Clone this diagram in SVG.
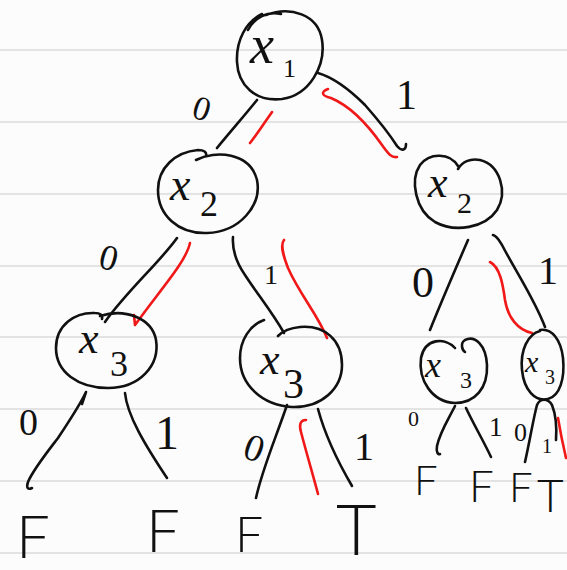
<svg xmlns="http://www.w3.org/2000/svg" width="567" height="570" viewBox="0 0 567 570">
  <style>
    .rule { stroke: #e3e3e3; stroke-width: 2; }
    .ink { fill: none; stroke: #111; stroke-width: 2.6; stroke-linecap: round; stroke-linejoin: round; }
    .red { fill: none; stroke: #f01818; stroke-width: 2.6; stroke-linecap: round; stroke-linejoin: round; }
    .var { font-family: "Liberation Serif", serif; font-style: italic; fill: #111; }
    .sub { font-family: "Liberation Serif", serif; fill: #111; }
    .bit { font-family: "Liberation Serif", serif; fill: #111; }
    .leaf { font-family: "Lato", "Liberation Sans", sans-serif; font-weight: 300; fill: #111; }
  </style>

  <!-- notebook paper -->
  <rect width="567" height="570" fill="#fcfcfc"/>
  <g id="paper-rules">
    <line class="rule" x1="0" y1="50" x2="567" y2="50"/>
    <line class="rule" x1="0" y1="122" x2="567" y2="122"/>
    <line class="rule" x1="0" y1="194" x2="567" y2="194"/>
    <line class="rule" x1="0" y1="266" x2="567" y2="266"/>
    <line class="rule" x1="0" y1="337" x2="567" y2="337"/>
    <line class="rule" x1="0" y1="409" x2="567" y2="409"/>
    <line class="rule" x1="0" y1="481" x2="567" y2="481"/>
    <line class="rule" x1="0" y1="553" x2="567" y2="553"/>
  </g>

  <!-- branches, bit labels and the highlighted path -->
  <g id="connectors">
    <!-- x1 -> x2 (0) -->
    <path class="ink" d="M257,100 C245,115 230,132 217,148"/>
    <path class="red" d="M272,112 C265,122 258,133 250,143"/>
    <text class="bit" x="193" y="121" font-size="34" transform="rotate(18 205 110)">0</text>
    <!-- x1 -> x2 (1) -->
    <path class="ink" d="M318,73 C335,78 350,90 365,105 C380,122 390,135 397,146 C402,152 406,150 406,144"/>
    <path class="red" d="M328,89 C320,92 322,96 331,98 C350,106 368,125 382,145 C388,153 391,158 397,157"/>
    <text class="bit" x="396" y="109" font-size="42">1</text>

    <!-- left x2 -> x3 (0) -->
    <path class="ink" d="M177,238 C160,262 126,292 105,322"/>
    <path class="red" d="M190,243 C186,262 160,290 135,325 M135,325 L134,315"/>
    <text class="bit" x="100" y="272" font-size="36" transform="rotate(15 117 258)">0</text>
    <!-- left x2 -> x3 (1) -->
    <path class="ink" d="M233,237 C232,250 236,262 245,275 C258,295 272,312 284,333"/>
    <path class="red" d="M284,240 C280,245 283,255 288,268 C300,295 318,315 327,338"/>
    <text class="bit" x="264" y="284" font-size="28">1</text>

    <!-- right x2 -> x3 (0) -->
    <path class="ink" d="M468,240 C455,270 442,300 430,330"/>
    <text class="bit" x="412" y="297" font-size="44">0</text>
    <!-- right x2 -> x3 (1) -->
    <path class="ink" d="M493,235 C497,236 499,240 502,245 C515,270 535,300 545,327"/>
    <path class="red" d="M490,262 C500,267 503,285 505,300 C508,318 518,330 532,333"/>
    <text class="bit" x="538" y="284" font-size="40">1</text>

    <!-- x3 (a) -->
    <path class="ink" d="M86,392 C80,405 70,420 58,438 C45,455 33,470 28,482 C26,488 28,490 32,488 M86,392 L82,404"/>
    <text class="bit" x="19" y="435" font-size="38">0</text>
    <path class="ink" d="M125,393 C127,415 145,445 167,478"/>
    <text class="bit" x="155" y="449" font-size="48">1</text>

    <!-- x3 (b) -->
    <path class="ink" d="M287,405 C275,440 262,470 256,498"/>
    <text class="bit" x="245" y="462" font-size="38" transform="rotate(20 258 448)">0</text>
    <path class="red" d="M306,420 C300,420 299,425 301,432 C307,455 313,475 318,494"/>
    <path class="ink" d="M318,409 C325,435 338,462 352,486"/>
    <text class="bit" x="354" y="460" font-size="40">1</text>

    <!-- x3 (c) -->
    <path class="ink" d="M455,406 C448,420 440,432 437,446 C436,452 438,455 440,454"/>
    <text class="bit" x="408" y="426" font-size="22">0</text>
    <path class="ink" d="M466,408 C474,425 483,440 491,457"/>
    <text class="bit" x="489" y="436" font-size="27">1</text>

    <!-- x3 (d) -->
    <path class="ink" d="M525,462 C530,440 533,420 537,405 C540,398 548,398 552,405 C556,415 557,425 556,440"/>
    <text class="bit" x="514" y="441" font-size="26">0</text>
    <text class="bit" x="542" y="453" font-size="20">1</text>
    <path class="red" d="M558,418 C560,430 563,445 566,458"/>
  </g>

  <!-- decision nodes -->
  <g id="node-x1">
    <path class="ink" d="M266,15 C290,6 318,14 322,40 C326,65 310,95 282,99 C255,102 238,85 237,62 C236,40 246,22 262,14 M248,30 C255,17 267,11 281,14"/>
    <text class="var" x="250" y="63" font-size="54">x</text>
    <text class="sub" x="283" y="77" font-size="26">1</text>
  </g>
  <g id="node-x2-left">
    <path class="ink" d="M196,160 C215,150 250,152 257,180 C262,205 240,232 207,233 C178,234 158,215 158,190 C158,168 175,152 198,150 C204,150 207,152 206,156"/>
    <text class="var" x="170" y="200" font-size="46">x</text>
    <text class="sub" x="200" y="216" font-size="36">2</text>
  </g>
  <g id="node-x2-right">
    <path class="ink" d="M458,166 C450,153 430,152 420,165 C410,180 415,210 435,222 C455,233 485,228 497,210 C508,192 500,165 480,160 C470,158 462,162 458,169"/>
    <text class="var" x="428" y="197" font-size="44">x</text>
    <text class="sub" x="457" y="213" font-size="30">2</text>
  </g>
  <g id="node-x3-a">
    <path class="ink" d="M100,316 C125,308 152,318 156,340 C160,365 140,388 108,388 C78,388 56,372 56,348 C56,325 75,312 95,313 C100,313 103,315 102,319"/>
    <text class="var" x="79" y="353" font-size="44">x</text>
    <text class="sub" x="110" y="376" font-size="36">3</text>
  </g>
  <g id="node-x3-b">
    <path class="ink" d="M264,320 C250,325 240,340 240,358 C240,385 262,405 292,407 C322,408 342,388 342,365 C342,340 325,325 300,327 C290,328 282,332 278,336"/>
    <text class="var" x="260" y="374" font-size="44">x</text>
    <text class="sub" x="283" y="398" font-size="42">3</text>
  </g>
  <g id="node-x3-c">
    <path class="ink" d="M455,348 C445,337 425,338 421,358 C418,380 432,402 455,403 C475,403 488,388 487,365 C486,345 475,335 465,340 C460,343 462,350 465,352"/>
    <text class="var" x="425" y="377" font-size="36">x</text>
    <text class="sub" x="460" y="388" font-size="24">3</text>
  </g>
  <g id="node-x3-d">
    <path class="ink" d="M540,331 C528,334 520,350 522,370 C524,390 535,402 548,399 C560,396 565,378 563,358 C561,340 552,328 540,330"/>
    <text class="var" x="525" y="372" font-size="30">x</text>
    <text class="sub" x="545" y="384" font-size="20">3</text>
  </g>

  <!-- leaf values -->
  <g id="leaves">
    <text class="leaf" x="16" y="558" font-size="60">F</text>
    <text class="leaf" x="146" y="552" font-size="60">F</text>
    <text class="leaf" x="235" y="552" font-size="50">F</text>
    <text class="leaf" x="336" y="555" font-size="70">T</text>
    <text class="leaf" x="414" y="495" font-size="42">F</text>
    <text class="leaf" x="469" y="502" font-size="44">F</text>
    <text class="leaf" x="509" y="502" font-size="42">F</text>
    <text class="leaf" x="537" y="512" font-size="46">T</text>
  </g>
</svg>
